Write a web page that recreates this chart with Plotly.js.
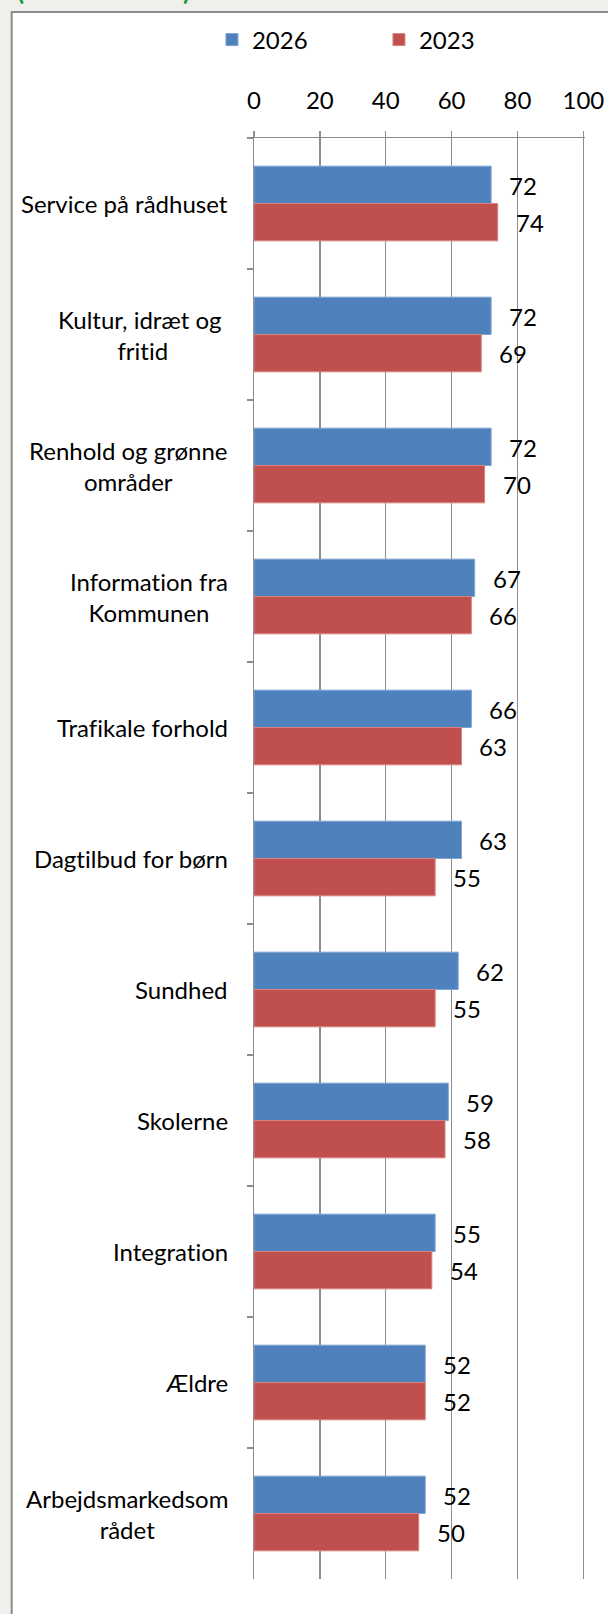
<!DOCTYPE html>
<html>
<head>
<meta charset="utf-8">
<script src="https://cdn.plot.ly/plotly-3.0.1.min.js"></script>
<style>
  html, body { margin: 0; padding: 0; background: #F0EFEB; }
  #chart { width: 608px; height: 1614px; }
  svg text { font-variant-ligatures: none !important; font-feature-settings: "liga" 0, "clig" 0, "dlig" 0 !important; }
</style>
</head>
<body>
<div id="chart"></div>
<script>
// ---- Data ----
const categories = [
  "Service på rådhuset",
  "Kultur, idræt og fritid",
  "Renhold og grønne områder",
  "Information fra Kommunen",
  "Trafikale forhold",
  "Dagtilbud for børn",
  "Sundhed",
  "Skolerne",
  "Integration",
  "Ældre",
  "Arbejdsmarkedsområdet"
];
const categoryLabels = [
  "Service på rådhuset",
  "Kultur, idræt og <br>fritid",
  "Renhold og grønne<br>områder",
  "Information fra<br>Kommunen",
  "Trafikale forhold",
  "Dagtilbud for børn",
  "Sundhed",
  "Skolerne",
  "Integration",
  "Ældre",
  "Arbejdsmarkedsom<br>rådet"
];
const seriesNames = ["2026", "2023"];
const values2026 = [72, 72, 72, 67, 66, 63, 62, 59, 55, 52, 52];
const values2023 = [74, 69, 70, 66, 63, 55, 55, 58, 54, 52, 50];
const xTickVals = [0, 20, 40, 60, 80, 100];
const xTickText = ["0", "20", "40", "60", "80", "100"];

// ---- Styles ----
const FONT = "Lato, 'Open Sans', sans-serif";
const FS = 24;
const GRID = "#8C8C8C";
const colors = ["#4F81BD", "#C0504D"];
const lineColors = ["#7FA3D3", "#D9827F"];

const traces = [values2026, values2023].map((vals, i) => ({
  type: "bar",
  orientation: "h",
  name: seriesNames[i],
  x: vals,
  y: categories,
  marker: { color: colors[i], line: { color: lineColors[i], width: 1 } },
  hoverinfo: "skip"
}));

const annotations = [];
categories.forEach((c, k) => {
  annotations.push({
    xref: "paper", yref: "y", x: 0, y: c,
    xanchor: "right", yanchor: "middle", xshift: -24,
    text: categoryLabels[k], showarrow: false, align: "center",
    font: { family: FONT, size: FS, color: "#000" }
  });
});
[values2026, values2023].forEach((vals, i) => {
  vals.forEach((v, k) => {
    annotations.push({
      xref: "x", yref: "y", x: v, y: categories[k],
      xanchor: "left", yanchor: "middle",
      xshift: 16, yshift: i === 0 ? 18.5 : -18.5,
      text: String(v), showarrow: false,
      font: { family: FONT, size: FS, color: "#000" }
    });
  });
});
// partially visible green heading at very top
const PW = 330.6, PH = 1441;
annotations.push({
  xref: "paper", yref: "paper", x: (15 - 254) / PW, y: (1579 - 8) / PH,
  xanchor: "left", yanchor: "bottom", text: "(", showarrow: false,
  font: { family: FONT, size: 26, color: "#0E9A48", weight: "bold" }
});
annotations.push({
  xref: "paper", yref: "paper", x: (192 - 254) / PW, y: (1579 - 8) / PH,
  xanchor: "right", yanchor: "bottom", text: ")", showarrow: false,
  font: { family: FONT, size: 26, color: "#0E9A48", weight: "bold" }
});

const layout = {
  width: 608,
  height: 1614,
  margin: { l: 254, r: 23.4, t: 138, b: 35, pad: 0 },
  paper_bgcolor: "#F0EFEB",
  plot_bgcolor: "rgba(0,0,0,0)",
  font: { family: FONT, size: FS, color: "#000" },
  barmode: "group",
  bargap: 0.43,
  bargroupgap: 0,
  showlegend: true,
  legend: {
    orientation: "h",
    x: (212 - 254) / PW, xanchor: "left",
    y: (1579 - 40) / PH, yanchor: "middle",
    entrywidth: 122, entrywidthmode: "pixels",
    font: { family: FONT, size: FS, color: "#000" },
    bgcolor: "rgba(0,0,0,0)",
    traceorder: "normal"
  },
  xaxis: {
    side: "top",
    range: [0, 100.5],
    tickvals: xTickVals,
    ticktext: xTickText,
    showgrid: true, gridcolor: GRID, gridwidth: 1.5,
    zeroline: false,
    showline: true, linecolor: GRID, linewidth: 1.5,
    ticks: "outside", ticklen: 6, tickcolor: GRID, tickwidth: 1.5,
    ticklabelstandoff: 12,
    tickfont: { family: FONT, size: FS, color: "#000" },
    fixedrange: true
  },
  yaxis: {
    type: "category",
    autorange: "reversed",
    showticklabels: false,
    showgrid: false,
    zeroline: false,
    showline: true, linecolor: GRID, linewidth: 1.5,
    ticks: "outside", tickson: "boundaries", ticklen: 6, tickcolor: GRID, tickwidth: 1.5,
    fixedrange: true
  },
  shapes: [{
    type: "rect", layer: "below",
    xref: "paper", yref: "paper",
    x0: (12 - 254) / PW, x1: 2,
    y0: -1, y1: (1579 - 12) / PH,
    fillcolor: "#FFFFFF",
    line: { color: "#8C8C8C", width: 2 }
  }],
  annotations: annotations
};

Plotly.newPlot("chart", traces, layout, { staticPlot: true, displayModeBar: false });
</script>
</body>
</html>
